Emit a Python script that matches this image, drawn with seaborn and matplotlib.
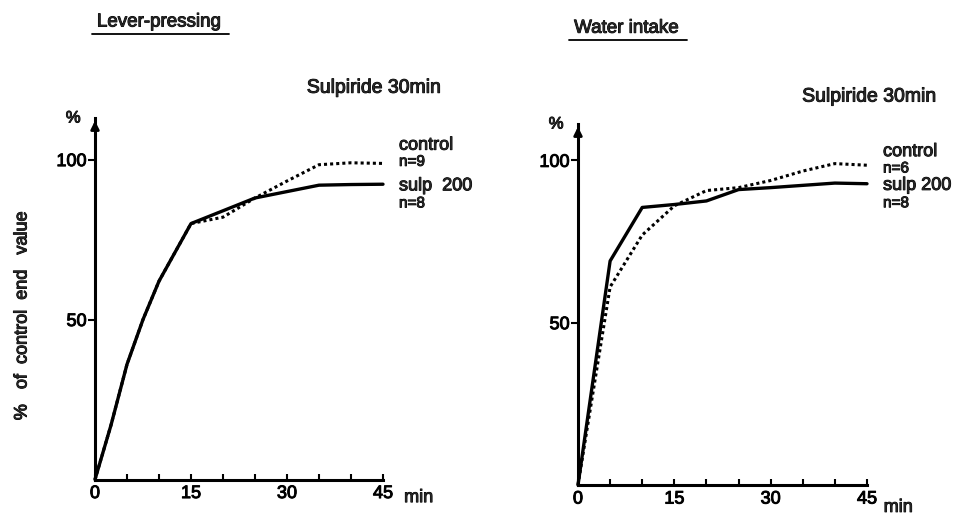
import numpy as np
import pandas as pd
import seaborn as sns
import matplotlib.pyplot as plt
import matplotlib.patheffects as pe
from matplotlib.lines import Line2D

# values (% of control end value)
lever_time = [0, 2.5, 5, 7.5, 10, 12.5, 15, 20, 25, 30, 35, 40, 45]
lever_control = [0, 17, 36, 50, 62, 71, 80, 82, 88, 93.3, 98.4, 99, 98.8]
lever_sulp = [0, 17, 36, 50, 62, 71, 80, 84, 88, 90, 92, 92.2, 92.3]

water_time = [0, 5, 10, 15, 20, 25, 30, 35, 40, 45]
water_control = [0, 61, 77, 86, 90.7, 91.6, 93.8, 96.7, 99, 98.5]
water_sulp = [0, 69, 85.5, 86.4, 87.5, 91, 91.6, 92.3, 93, 92.8]

titles = ["Lever-pressing", "Water intake"]
n_control = ["n=9", "n=6"]
n_sulp = ["n=8", "n=8"]
sulp_names = ["sulp  200", "sulp 200"]
x_major = [0, 15, 30, 45]
y_major = [50, 100]

sns.set_theme(style="white")
plt.rcParams['font.family'] = ['Liberation Sans', 'DejaVu Sans']

# scanned print looks a bit heavier than a plain font
heavy = [pe.withStroke(linewidth=0.7, foreground="black")]

fig = plt.figure(figsize=(9.59, 5.15), dpi=100)
ax_l = fig.add_axes([95 / 959, 35.5 / 515, 288 / 959, 361.5 / 515])
ax_r = fig.add_axes([578 / 959, 30 / 515, 289 / 959, 361 / 515])

panels = [
    (ax_l, lever_time, lever_control, lever_sulp, 113.0),
    (ax_r, water_time, water_control, water_sulp, 111.2),
]

title_texts = []
for i, (ax, t, ctrl, sulp, ytop) in enumerate(panels):
    sns.lineplot(x=t, y=sulp, ax=ax, color="black", linewidth=2.4, clip_on=False)
    sns.lineplot(x=t, y=ctrl, ax=ax, color="black", linewidth=2.2,
                 linestyle=(0, (1, 1)), clip_on=False)
    ax.set_xlim(0, 45)
    ax.set_ylim(0, ytop)

    for s in ["top", "right"]:
        ax.spines[s].set_visible(False)
    for s in ["left", "bottom"]:
        ax.spines[s].set_linewidth(2.2)
        ax.spines[s].set_color("black")

    ax.set_xticks(x_major)
    ax.set_xticks(np.arange(0, 46, 5), minor=True)
    ax.set_yticks(y_major)
    ax.tick_params(axis="x", which="both", direction="in", length=4, width=1.5,
                   labelsize=13, pad=4, bottom=True, colors="black")
    ax.tick_params(axis="y", direction="out", length=5, width=1.5,
                   labelsize=13, pad=1, left=True, colors="black")
    for lab in ax.get_xticklabels() + ax.get_yticklabels():
        lab.set_path_effects(heavy)
    ax.set_xlabel("")
    ax.set_ylabel("")

    # arrow head on the y axis
    ax.annotate("", xy=(0, 1.0), xytext=(0, 0.96), xycoords="axes fraction",
                arrowprops=dict(arrowstyle="-|>", color="black", lw=2,
                                mutation_scale=12))
    ax.text(-3.4, ytop, "%", fontsize=12, ha="center", va="center",
            path_effects=heavy)

    ax.text(48.3 if i == 0 else 47.6, -0.05 if i == 0 else -0.062, "min",
            transform=ax.get_xaxis_transform(), fontsize=13,
            ha="left", va="center", path_effects=heavy)

    ax.text(33.1 if i == 0 else 34.9, 122.3 if i == 0 else 119.5,
            "Sulpiride 30min", fontsize=14, ha="left", va="center",
            path_effects=heavy)

    # line labels next to the end of each curve
    yc = ctrl[-1] + (5.7 if i == 0 else 4.2)
    ax.text(47.5, yc, "control", fontsize=13, ha="left", va="center",
            path_effects=heavy)
    ax.text(47.5, yc - 5.2, n_control[i], fontsize=11, ha="left", va="center",
            path_effects=heavy)
    ax.text(47.5, sulp[-1] - 0.5, sulp_names[i], fontsize=13, ha="left",
            va="center", path_effects=heavy)
    ax.text(47.5, sulp[-1] - 6, n_sulp[i], fontsize=11, ha="left", va="center",
            path_effects=heavy)

    tt = ax.text(0.3 if i == 0 else -0.6, 143 if i == 0 else 140.7, titles[i],
                 fontsize=13.5, ha="left", va="center", path_effects=heavy)
    title_texts.append(tt)

fig.text(22 / 959, 1 - 316 / 515, "%   of  control  end   value", rotation=90,
         fontsize=13, ha="center", va="center", path_effects=heavy)

# underline the panel titles
fig.canvas.draw()
for tt in title_texts:
    bb = tt.get_window_extent()
    W, H = fig.bbox.width, fig.bbox.height
    y = (bb.y0 - 3) / H
    fig.add_artist(Line2D([(bb.x0 - 5) / W, (bb.x1 + 8) / W], [y, y],
                          color="black", lw=1.3))

fig.savefig("out.png", dpi=100, facecolor="white")
